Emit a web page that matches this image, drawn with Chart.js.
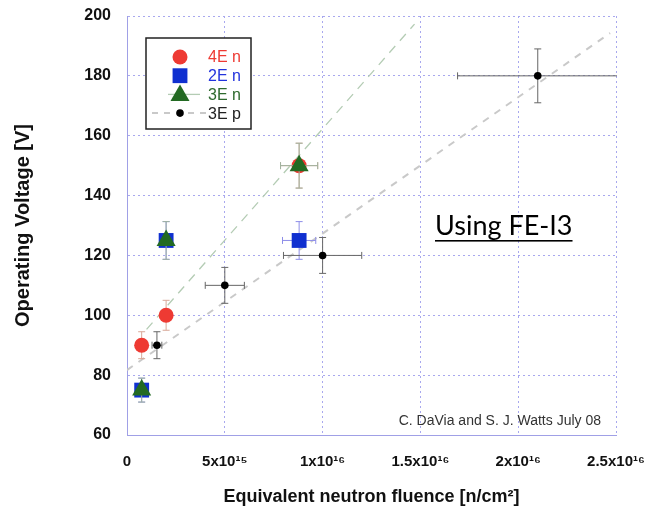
<!DOCTYPE html>
<html><head><meta charset="utf-8">
<script src="https://cdn.jsdelivr.net/npm/chart.js@4/dist/chart.umd.min.js"></script>
<style>html,body{margin:0;padding:0;background:#fff}#wrap{width:651px;height:509px}</style>
</head><body><div id="wrap"><canvas id="c" width="651" height="509"></canvas></div>
<script>
// ---- data (fluence in n/cm^2, voltage in V) ----
const fluence4En = [0.75e15, 2.0e15, 8.8e15];
const volt4En    = [90, 100, 150];
const xErr4En    = [0, 0, 0.95e15];
const yErr4En    = [4.5, 5, 7.5];

const fluence2En = [0.75e15, 2.0e15, 8.8e15];
const volt2En    = [75, 125, 125];
const xErr2En    = [0, 0, 0.85e15];
const yErr2En    = [4, 6.3, 6.3];

const fluence3En = [0.75e15, 2.0e15, 8.8e15];
const volt3En    = [75, 125, 150];
const xErr3En    = [0, 0, 0.95e15];
const yErr3En    = [4, 6.3, 7.5];

const fluence3Ep = [1.53e15, 5.0e15, 10.0e15, 21.0e15];
const volt3Ep    = [90, 110, 120, 180];
const xErr3Ep    = [0.25e15, 1.0e15, 2.0e15, 4.1e15];
const yErr3Ep    = [4.5, 6, 6, 9];

// fitted lines (end points)
const fitNx = [1.0e15, 14.7e15];
const fitNy = [95.3, 197.3];
const fitPx = [0, 24.7e15];
const fitPy = [81.7, 194.3];

const xTickValues = [0, 5e15, 1e16, 1.5e16, 2e16, 2.5e16];
const xTickLabels = ['0', '5x10\u00b9\u2075', '1x10\u00b9\u2076', '1.5x10\u00b9\u2076', '2x10\u00b9\u2076', '2.5x10\u00b9\u2076'];
const yTickValues = [60, 80, 100, 120, 140, 160, 180, 200];

const xTitle = 'Equivalent neutron fluence [n/cm\u00b2]';
const yTitle = 'Operating Voltage [V]';
const noteText = 'Using FE-I3';
const creditText = 'C. DaVia and S. J. Watts July 08';

const pts = (xs, ys) => xs.map((x, i) => ({x: x, y: ys[i]}));

const datasets = [
  {label: 'fitN', data: pts(fitNx, fitNy), showLine: true, borderColor: '#b4ccb4', borderWidth: 1.3,
   borderDash: [9, 7], pointRadius: 0, order: 10, isFit: true},
  {label: 'fitP', data: pts(fitPx, fitPy), showLine: true, borderColor: '#c9c9c9', borderWidth: 2,
   borderDash: [7, 7], pointRadius: 0, order: 9, isFit: true},
  {label: '4E n', data: pts(fluence4En, volt4En), xErr: xErr4En, yErr: yErr4En, errColor: '#d8a898',
   pointStyle: 'circle', pointRadius: 7.5, backgroundColor: '#ee3a33', borderColor: '#ee3a33', borderWidth: 0,
   textColor: '#ee3a33', order: 4},
  {label: '2E n', data: pts(fluence2En, volt2En), xErr: xErr2En, yErr: yErr2En, errColor: '#8e8ee8',
   pointStyle: 'rect', pointRadius: 10.5, backgroundColor: '#1030d0', borderColor: '#1030d0', borderWidth: 0,
   textColor: '#2233dd', order: 3},
  {label: '3E n', data: pts(fluence3En, volt3En), xErr: xErr3En, yErr: yErr3En, errColor: '#a0b4a0',
   pointStyle: 'triangle', pointRadius: 11, backgroundColor: '#236a23', borderColor: '#236a23', borderWidth: 0,
   textColor: '#2e6a2e', legendLine: 0, order: 2},
  {label: '3E p', data: pts(fluence3Ep, volt3Ep), xErr: xErr3Ep, yErr: yErr3Ep, errColor: '#666666',
   pointStyle: 'circle', pointRadius: 3.8, backgroundColor: '#000', borderColor: '#000', borderWidth: 0,
   textColor: '#222', legendLine: 1, order: 1}
];

const errorBars = {
  id: 'errorBars',
  beforeDatasetDraw(chart, args) {
    const ds = chart.data.datasets[args.index];
    if (!ds.yErr) return;
    const xs = chart.scales.x, ys = chart.scales.y, ctx = chart.ctx, ca = chart.chartArea;
    ctx.save();
    ctx.beginPath(); ctx.rect(ca.left, ca.top, ca.right - ca.left + 1, ca.bottom - ca.top); ctx.clip();
    ctx.strokeStyle = ds.errColor; ctx.lineWidth = 1;
    const cap = 3.5;
    ds.data.forEach((p, i) => {
      const cx = xs.getPixelForValue(p.x), cy = ys.getPixelForValue(p.y);
      const ey = ds.yErr[i], ex = ds.xErr[i];
      if (ey) {
        const y1 = ys.getPixelForValue(p.y + ey), y2 = ys.getPixelForValue(p.y - ey);
        ctx.beginPath();
        ctx.moveTo(cx, y1); ctx.lineTo(cx, y2);
        ctx.moveTo(cx - cap, y1); ctx.lineTo(cx + cap, y1);
        ctx.moveTo(cx - cap, y2); ctx.lineTo(cx + cap, y2);
        ctx.stroke();
      }
      if (ex) {
        const x1 = xs.getPixelForValue(p.x - ex), x2 = xs.getPixelForValue(p.x + ex);
        ctx.beginPath();
        ctx.moveTo(x1, cy); ctx.lineTo(x2, cy);
        ctx.moveTo(x1, cy - cap); ctx.lineTo(x1, cy + cap);
        ctx.moveTo(x2, cy - cap); ctx.lineTo(x2, cy + cap);
        ctx.stroke();
      }
    });
    ctx.restore();
  }
};

const legendBox = {
  id: 'legendBox',
  afterDraw(chart) {
    const ctx = chart.ctx;
    const bx = 146, by = 38, bw = 105, bh = 91;
    ctx.save();
    ctx.fillStyle = '#fff';
    ctx.fillRect(bx, by, bw, bh);
    ctx.strokeStyle = '#222'; ctx.lineWidth = 1.5;
    ctx.strokeRect(bx, by, bw, bh);
    const items = chart.data.datasets.filter(d => !d.isFit);
    items.forEach((d, i) => {
      const cy = 57 + i * 18.7, cx = 180;
      if (d.legendLine !== undefined) {
        const f = chart.data.datasets[d.legendLine];
        ctx.save();
        ctx.strokeStyle = f.borderColor; ctx.lineWidth = f.borderWidth;
        ctx.setLineDash(d.legendLine === 1 ? [6, 6] : []);
        ctx.beginPath();
        if (d.legendLine === 1) { ctx.moveTo(152, cy); ctx.lineTo(208, cy); }
        else { ctx.moveTo(168, cy); ctx.lineTo(200, cy); }
        ctx.stroke();
        ctx.restore();
      }
      ctx.save();
      ctx.fillStyle = d.backgroundColor; ctx.strokeStyle = d.backgroundColor;
      Chart.helpers.drawPoint(ctx, {pointStyle: d.pointStyle, radius: d.pointRadius, rotation: 0, borderWidth: 0},
        cx, cy + (d.pointStyle === 'triangle' ? 1 : 0));
      ctx.restore();
      ctx.fillStyle = d.textColor;
      ctx.font = '16px "Liberation Sans", Arial, sans-serif';
      ctx.textAlign = 'left'; ctx.textBaseline = 'middle';
      ctx.fillText(d.label, 208, cy + 1);
    });
    ctx.restore();
  }
};

const annotations = {
  id: 'annotations',
  afterDraw(chart) {
    const ctx = chart.ctx;
    ctx.save();
    ctx.fillStyle = '#000';
    ctx.font = '27px Lato, "Liberation Sans", sans-serif';
    ctx.textAlign = 'left'; ctx.textBaseline = 'alphabetic';
    const w = ctx.measureText(noteText).width;
    ctx.fillText(noteText, 435, 235);
    ctx.fillRect(435, 240, w, 1.6);
    ctx.fillStyle = '#333';
    ctx.font = '14px "Liberation Sans", Arial, sans-serif';
    ctx.textAlign = 'right';
    ctx.fillText(creditText, 601, 425);
    ctx.restore();
  }
};

new Chart(document.getElementById('c'), {
  type: 'scatter',
  data: {datasets: datasets},
  options: {
    responsive: false,
    animation: false,
    layout: {padding: {top: 16, right: 35, left: 0, bottom: 0}},
    plugins: {legend: {display: false}, tooltip: {enabled: false}},
    scales: {
      x: {
        type: 'linear', min: 0, max: 2.5e16,
        afterBuildTicks: s => { s.ticks = xTickValues.map(v => ({value: v})); },
        afterFit: s => { s.height = 74; s.paddingLeft = 0; s.paddingRight = 0; },
        ticks: {callback: (v, i) => xTickLabels[i], padding: 18, maxRotation: 0, autoSkip: false,
                color: '#111', font: {family: '"Liberation Sans", Arial, sans-serif', weight: 'bold', size: 15}},
        grid: {color: '#a8a8ee', lineWidth: 1, drawTicks: false},
        border: {display: true, color: '#a0a0e6', width: 1, dash: [2, 3]},
        title: {display: true, text: xTitle, padding: {top: 0, bottom: 1}, color: '#111',
                font: {family: '"Liberation Sans", Arial, sans-serif', weight: 'bold', size: 18}}
      },
      y: {
        type: 'linear', min: 60, max: 200,
        afterBuildTicks: s => { s.ticks = yTickValues.map(v => ({value: v})); },
        afterFit: s => { s.width = 127; s.paddingTop = 0; s.paddingBottom = 0; },
        ticks: {padding: 16, color: '#111',
                font: {family: '"Liberation Sans", Arial, sans-serif', weight: 'bold', size: 16}},
        grid: {color: '#a8a8ee', lineWidth: 1, drawTicks: false},
        border: {display: true, color: '#a0a0e6', width: 1, dash: [2, 3]},
        title: {display: true, text: yTitle, padding: {top: 11, bottom: 0}, color: '#111',
                font: {family: '"Liberation Sans", Arial, sans-serif', weight: 'bold', size: 20}}
      }
    }
  },
  plugins: [errorBars, legendBox, annotations]
});
</script>
</body></html>
